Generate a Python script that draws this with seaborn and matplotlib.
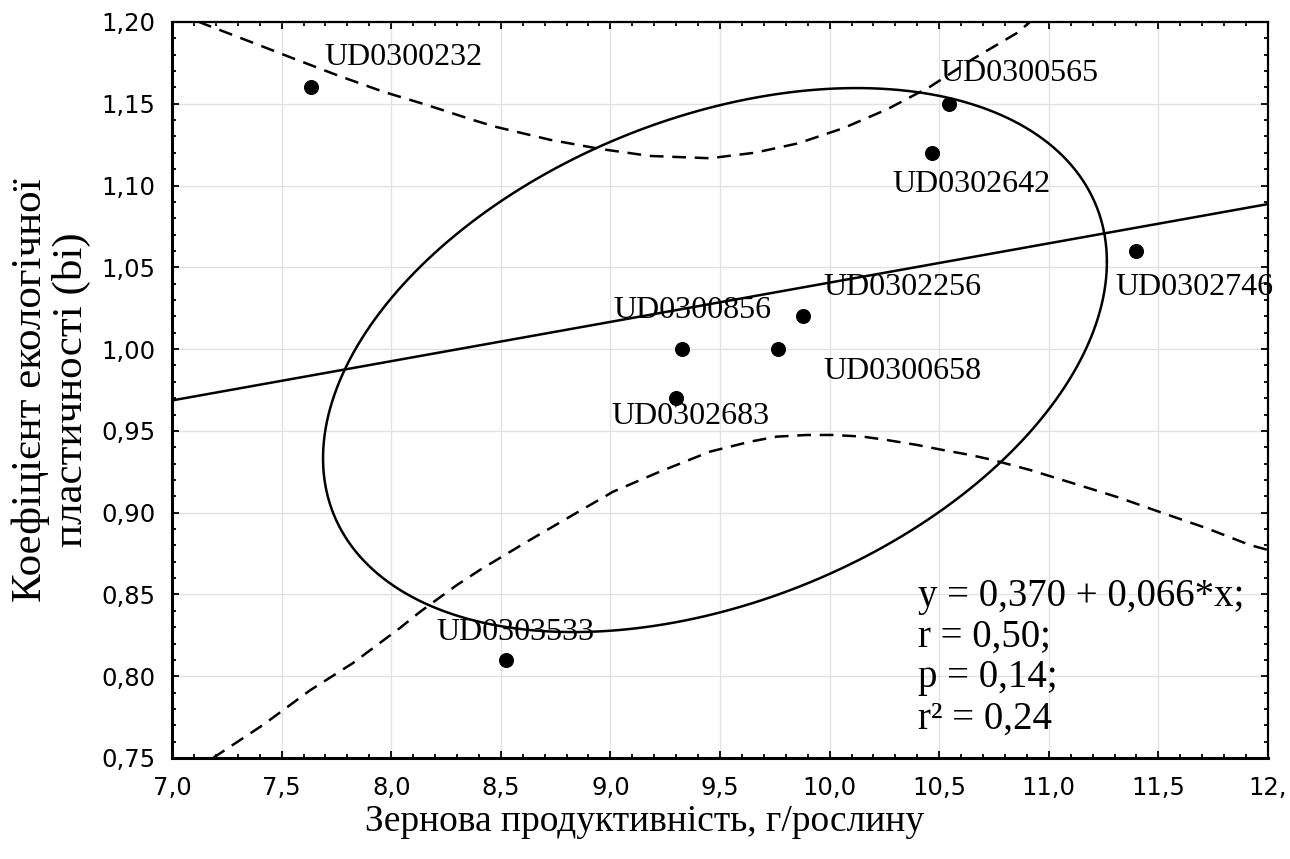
import numpy as np
import pandas as pd
import matplotlib
matplotlib.use("Agg")
import matplotlib.pyplot as plt
import seaborn as sns
from matplotlib.ticker import FixedLocator, MultipleLocator

# ---------------- data ----------------
genotypes = ["UD0300232", "UD0300565", "UD0302642", "UD0302746", "UD0302256",
             "UD0300856", "UD0300658", "UD0302683", "UD0303533"]
productivity = [7.633, 10.545, 10.467, 11.398, 9.879, 9.328, 9.766, 9.300, 8.524]
plasticity = [1.160, 1.150, 1.120, 1.060, 1.020, 1.000, 1.000, 0.970, 0.810]

upper_band_x = [7.12, 7.158, 7.356, 7.552, 7.751, 7.963, 8.162, 8.373, 8.474, 8.724,
                8.953, 9.181, 9.454, 9.660, 9.856, 10.061, 10.262, 10.458, 10.654,
                10.855, 10.914]
upper_band_y = [1.2002, 1.1982, 1.1880, 1.1778, 1.1676, 1.1574, 1.1493, 1.1401, 1.1360,
                1.1280, 1.1224, 1.1181, 1.1167, 1.1201, 1.1258, 1.1350, 1.1466, 1.1604,
                1.1774, 1.1933, 1.2000]
lower_band_x = [7.187, 7.415, 7.630, 7.826, 8.040, 8.131, 8.299, 8.405, 8.620, 8.816,
                9.012, 9.226, 9.454, 9.637, 9.760, 9.897, 10.016, 10.152, 10.262,
                10.399, 10.517, 10.641, 10.745, 10.914, 11.110, 11.316, 11.515,
                11.720, 11.918, 12.0]
lower_band_y = [0.750, 0.7702, 0.7914, 0.8081, 0.8295, 0.8393, 0.8557, 0.8650, 0.8823,
                0.8976, 0.9128, 0.9251, 0.9373, 0.9434, 0.9465, 0.9475, 0.9475, 0.9465,
                0.9444, 0.9414, 0.9383, 0.9353, 0.9322, 0.9261, 0.9180, 0.9094, 0.9000,
                0.8905, 0.8802, 0.8772]

ellipse_center = (9.477, 0.9933)
ellipse_radii = (1.788, 0.1663)
ellipse_phase = 1.2014

x_ticks = [7.0, 7.5, 8.0, 8.5, 9.0, 9.5, 10.0, 10.5, 11.0, 11.5, 12.0]
x_tick_labels = ["7,0", "7,5", "8,0", "8,5", "9,0", "9,5", "10,0", "10,5", "11,0", "11,5", "12,"]
y_ticks = [0.75, 0.80, 0.85, 0.90, 0.95, 1.00, 1.05, 1.10, 1.15, 1.20]
y_tick_labels = ["0,75", "0,80", "0,85", "0,90", "0,95", "1,00", "1,05", "1,10", "1,15", "1,20"]

equation_lines = ["y = 0,370 + 0,066*x;", "r = 0,50;", "p = 0,14;", "r\u00b2 = 0,24"]
x_label = "Зернова продуктивність, г/рослину"
y_label = "Коефіцієнт екологічної\nпластичності (bi)"

# label offsets (points) relative to each point: style only
label_offsets = [(10, 21.6), (-6.5, 21.6), (-28.8, -23), (-15, -26), (14.4, 21),
                 (-49.7, 28), (32.4, -15.8), (-46.8, -13), (-50.4, 19.4)]

# ---------------- plot ----------------
sns.set_style("ticks")
plt.rcParams["font.family"] = ["DejaVu Sans"]
plt.rcParams["text.color"] = "black"
serif = ["Liberation Serif", "DejaVu Serif"]

df = pd.DataFrame({"x": productivity, "y": plasticity, "name": genotypes})

fig = plt.figure(figsize=(12.9, 8.59), dpi=100)
ax = fig.add_axes([172 / 1290, 1 - 758 / 859, 1096 / 1290, 736 / 859])
ax.set_xlim(7.0, 12.0)
ax.set_ylim(0.75, 1.20)

ax.grid(True, which="major", color="#e2e2e2", linewidth=1.0, zorder=0)
ax.set_axisbelow(True)

sns.regplot(data=df, x="x", y="y", ci=None, truncate=False, scatter=False,
            color="black", line_kws=dict(linewidth=1.8), ax=ax)

sns.lineplot(x=upper_band_x, y=upper_band_y, estimator=None, color="black",
             linewidth=1.8, linestyle=(0, (5.5, 3.5)), ax=ax)
sns.lineplot(x=lower_band_x, y=lower_band_y, estimator=None, color="black",
             linewidth=1.8, linestyle=(0, (5.5, 3.5)), ax=ax)

t = np.linspace(0, 2 * np.pi, 500)
ex = ellipse_center[0] + ellipse_radii[0] * np.cos(t)
ey = ellipse_center[1] + ellipse_radii[1] * np.cos(t - ellipse_phase)
ax.plot(ex, ey, color="black", linewidth=1.8)

sns.scatterplot(data=df, x="x", y="y", s=100, color="black", edgecolor="black",
                zorder=5, ax=ax)

for name, px, py, off in zip(genotypes, productivity, plasticity, label_offsets):
    ax.annotate(name, (px, py), xytext=off, textcoords="offset points",
                ha="left", va="center", fontsize=23, family=serif, color="black")

ax.text(0.6807, 0.1365, "\n".join(equation_lines), transform=ax.transAxes,
        ha="left", va="center", fontsize=28, family=serif, linespacing=1.14,
        color="black")

ax.xaxis.set_major_locator(FixedLocator(x_ticks))
ax.set_xticklabels(x_tick_labels)
ax.yaxis.set_major_locator(FixedLocator(y_ticks))
ax.set_yticklabels(y_tick_labels)
ax.xaxis.set_minor_locator(MultipleLocator(0.1))
ax.yaxis.set_minor_locator(MultipleLocator(0.01))

ax.tick_params(which="both", direction="in", top=True, right=True, color="black", width=1.3)
ax.tick_params(which="major", length=5, labelsize=17.5, labelcolor="black")
ax.tick_params(which="minor", length=3)
ax.tick_params(axis="y", which="major", pad=12)
ax.tick_params(axis="x", which="major", pad=13)

for name_s, s in ax.spines.items():
    s.set_visible(True)
    s.set_color("black")
    s.set_linewidth(2.2 if name_s in ("left", "bottom") else 1.6)

ax.set_xlabel("")
ax.set_ylabel("")
fig.text(645 / 1290, 1 - 822 / 859, x_label, ha="center", va="center",
         fontsize=27, family=serif, color="black")
fig.text(51 / 1290, 1 - 390 / 859, y_label, ha="center", va="center",
         rotation=90, fontsize=31, family=serif, multialignment="center",
         linespacing=1.05, color="black")

fig.savefig("out.png", dpi=100)
